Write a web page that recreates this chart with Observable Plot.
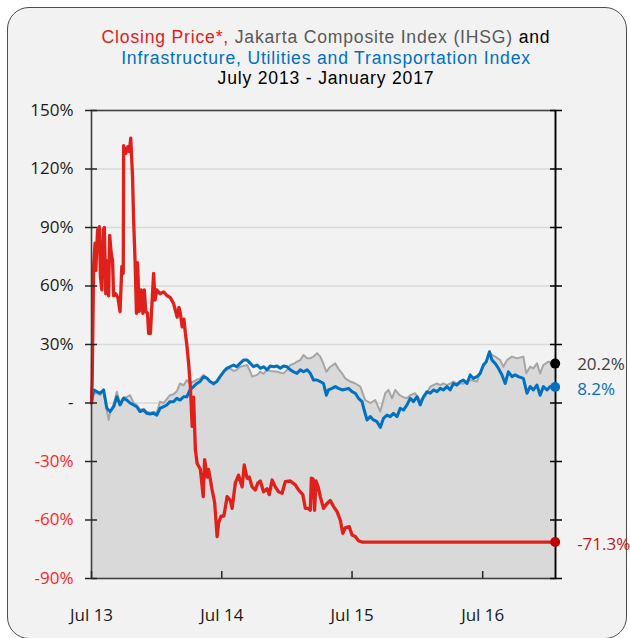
<!DOCTYPE html>
<html><head><meta charset="utf-8">
<script src="https://cdn.jsdelivr.net/npm/d3@7"></script>
<script src="https://cdn.jsdelivr.net/npm/@observablehq/plot@0.6"></script>
<style>
body{margin:0;background:#fff;width:630px;height:638px;overflow:hidden;font-family:"Open Sans",sans-serif;position:relative}
#card{position:absolute;left:7px;top:7px;width:620px;height:632px;border:1.5px solid #4d4d4d;border-radius:22px;background:#f2f2f2;box-sizing:border-box}
.tl{position:absolute;left:0;width:652px;text-align:center;font-family:"Liberation Sans",Arial,sans-serif;font-size:17.6px;letter-spacing:0.8px;line-height:20px;height:20px;color:#000;white-space:nowrap}
#chart{position:absolute;left:0;top:90px}
</style></head>
<body>
<div id="card"></div>
<div class="tl" style="top:27px"><span style="color:#e0201b">Closing Price*,</span> <span style="color:#595959">Jakarta Composite Index (IHSG)</span> and</div>
<div class="tl" style="top:47.5px;color:#0070c0">Infrastructure, Utilities and Transportation Index</div>
<div class="tl" style="top:68px">July 2013 - January 2017</div>
<div id="chart"></div>
<script>
// ---- Data (percent change since July 2013) ----
const redDates = ["2013-07-01","2013-07-03","2013-07-07","2013-07-11","2013-07-13","2013-07-18","2013-07-23","2013-07-26","2013-07-30","2013-08-03",
"2013-08-06","2013-08-10","2013-08-14","2013-08-18","2013-08-21","2013-08-25","2013-08-29","2013-09-01","2013-09-07","2013-09-13",
"2013-09-19","2013-09-24","2013-09-28","2013-09-29","2013-10-05","2013-10-11","2013-10-15","2013-10-19","2013-10-24","2013-10-27",
"2013-10-31","2013-11-04","2013-11-07","2013-11-12","2013-11-17","2013-11-22","2013-11-26","2013-11-30","2013-12-05","2013-12-08",
"2013-12-13","2013-12-17","2013-12-22","2013-12-26","2013-12-31","2014-01-09","2014-01-19","2014-01-29","2014-02-07","2014-02-16",
"2014-02-26","2014-03-03","2014-03-07","2014-03-12","2014-03-17","2014-03-21","2014-03-25","2014-03-30","2014-04-04","2014-04-09",
"2014-04-13","2014-04-18","2014-04-23","2014-05-02","2014-05-10","2014-05-14","2014-05-21","2014-05-25","2014-06-04","2014-06-11",
"2014-06-18","2014-06-22","2014-06-29","2014-07-07","2014-07-16","2014-07-25","2014-07-30","2014-08-08","2014-08-17","2014-08-27",
"2014-09-02","2014-09-10","2014-09-16","2014-09-24","2014-10-03","2014-10-10","2014-10-17","2014-10-26","2014-11-05","2014-11-11",
"2014-11-19","2014-11-28","2014-12-07","2014-12-17","2014-12-26","2015-01-09","2015-01-23","2015-02-01","2015-02-13","2015-02-20",
"2015-02-28","2015-03-06","2015-03-09","2015-03-14","2015-03-18","2015-03-22","2015-03-28","2015-04-03","2015-04-12","2015-04-22",
"2015-05-01","2015-05-10","2015-05-20","2015-05-29","2015-06-05","2015-06-12","2015-06-23","2015-07-01","2015-07-10","2015-07-19",
"2015-07-29","2017-01-20"];
const redValues = [0,12,70,82,68,88.7,90.4,64.8,58,88.7,
90,56,73,55,86,77,73,55,56,54,
46.8,70,66.5,132,128,131.5,129,135.8,116,94,
73,46,72,47,58,46,58,47,46,35.7,
35.7,49.4,66.5,52.8,58,56,57,55,54,51,
44,49,46,39,43,35.7,30,20.5,8.4,-12,
3,-24,-31,-34,-48,-29,-38,-34,-44.6,-51,
-68.5,-61.7,-58,-58,-48,-50,-54,-41,-37,-43,
-31.8,-38.6,-38,-43,-44.6,-41,-40,-45.5,-44,-47,
-39.5,-43,-45.5,-46.3,-40.3,-40,-42,-44.6,-47,-54,
-54,-55,-38.6,-39,-55,-40,-43,-48,-54,-51.5,
-50,-53,-55.7,-60,-66.8,-64,-63.4,-67.7,-68.5,-70.6,
-71.3,-71.3];

const blueDates = ["2013-07-01","2013-07-07","2013-07-16","2013-07-25","2013-08-04","2013-08-13","2013-08-22","2013-09-01","2013-09-10","2013-09-19",
"2013-09-29","2013-10-08","2013-10-17","2013-10-27","2013-11-05","2013-11-14","2013-11-24","2013-12-03","2013-12-12","2013-12-22",
"2013-12-31","2014-01-09","2014-01-19","2014-01-28","2014-02-06","2014-02-16","2014-02-25","2014-03-06","2014-03-16","2014-03-25",
"2014-04-03","2014-04-13","2014-04-22","2014-05-01","2014-05-11","2014-05-20","2014-05-29","2014-06-08","2014-06-17","2014-06-26",
"2014-07-06","2014-07-15","2014-07-24","2014-08-03","2014-08-12","2014-08-21","2014-08-31","2014-09-10","2014-09-19","2014-09-28",
"2014-10-08","2014-10-17","2014-10-26","2014-11-05","2014-11-14","2014-11-23","2014-12-03","2014-12-12","2014-12-21","2014-12-31",
"2015-01-09","2015-01-18","2015-01-28","2015-02-06","2015-02-15","2015-02-25","2015-03-06","2015-03-15","2015-03-25","2015-04-03",
"2015-04-12","2015-04-20","2015-04-26","2015-05-06","2015-05-15","2015-05-24","2015-06-03","2015-06-12","2015-06-21","2015-07-01",
"2015-07-10","2015-07-19","2015-07-29","2015-08-04","2015-08-12","2015-08-21","2015-08-30","2015-09-09","2015-09-18","2015-09-27",
"2015-10-07","2015-10-16","2015-10-25","2015-11-04","2015-11-13","2015-11-22","2015-12-02","2015-12-11","2015-12-20","2015-12-30",
"2016-01-08","2016-01-17","2016-01-27","2016-02-05","2016-02-14","2016-02-24","2016-03-04","2016-03-13","2016-03-23","2016-04-01",
"2016-04-10","2016-04-20","2016-04-29","2016-05-08","2016-05-18","2016-05-27","2016-06-05","2016-06-15","2016-06-24","2016-07-03",
"2016-07-11","2016-07-20","2016-07-27","2016-08-05","2016-08-14","2016-08-24","2016-09-02","2016-09-11","2016-09-21","2016-09-30",
"2016-10-09","2016-10-23","2016-11-02","2016-11-11","2016-11-20","2016-11-30","2016-12-09","2016-12-18","2016-12-28","2017-01-06",
"2017-01-20"];
const blueValues = [0,6.7,5.8,5,6.7,-2.7,-4.4,-1.9,3.2,-1,
2.4,1.5,0,-1,-1.9,-4.4,-3.6,-5.3,-5.6,-5.3,
-6.2,-2.7,-1.9,-1,0.7,0.7,2.4,1.5,3.2,3.2,
6.7,8.4,10,11,13.5,12.8,11,10,11,13.5,
16,17.8,18.6,19.5,18.6,20.3,22,22,20.3,18.6,
19.5,17.8,18.6,17,19,18.6,19,17.8,19,18.6,
17,16,15.2,17,16,17,15.2,11.8,11.8,11,
10,4,6.7,7.5,8.4,7.5,6.7,7,7.5,5.8,
5,2.4,0.7,-3.6,-8.7,-7,-8.7,-9.6,-12.5,-7.9,
-6.2,-7,-5.3,-7,-2.7,-3.6,-1,2.4,0.7,3.2,
-1,3.2,5.8,5,6.7,5.8,7.5,6.7,8.4,6.7,
10,9.2,11,11.8,10,14.4,12.6,13.5,15.2,19.5,
21.2,26.3,22,20.3,17.8,14.4,10,16,13.5,14.4,
13.5,12.6,5,8.4,6.7,9.2,4,8.4,6.7,8.4,
8.2];

const grayDates = ["2013-07-01","2013-07-07","2013-07-16","2013-07-25","2013-08-04","2013-08-13","2013-08-18","2013-08-23","2013-09-01","2013-09-10",
"2013-09-19","2013-09-29","2013-10-08","2013-10-17","2013-10-27","2013-11-05","2013-11-14","2013-11-24","2013-12-03","2013-12-12",
"2013-12-22","2013-12-31","2014-01-09","2014-01-19","2014-01-28","2014-02-06","2014-02-16","2014-02-25","2014-03-06","2014-03-16",
"2014-03-25","2014-04-03","2014-04-13","2014-04-22","2014-05-01","2014-05-11","2014-05-20","2014-05-29","2014-06-08","2014-06-17",
"2014-06-26","2014-07-06","2014-07-15","2014-07-24","2014-08-03","2014-08-12","2014-08-21","2014-08-31","2014-09-10","2014-09-19",
"2014-09-24","2014-10-08","2014-10-17","2014-10-26","2014-11-05","2014-11-14","2014-12-03","2014-12-21","2014-12-31","2015-01-09",
"2015-01-18","2015-01-28","2015-02-06","2015-02-15","2015-02-25","2015-03-06","2015-03-15","2015-03-25","2015-04-03","2015-04-12",
"2015-04-20","2015-05-01","2015-05-15","2015-05-24","2015-06-03","2015-06-12","2015-06-26","2015-07-10","2015-07-24","2015-08-07",
"2015-08-21","2015-09-04","2015-09-18","2015-10-02","2015-10-11","2015-10-21","2015-10-30","2015-11-11","2015-11-22","2015-12-02",
"2015-12-11","2015-12-25","2016-01-08","2016-01-22","2016-02-05","2016-02-14","2016-02-24","2016-03-04","2016-03-13","2016-03-23",
"2016-04-01","2016-04-10","2016-04-20","2016-05-08","2016-05-27","2016-06-15","2016-06-29","2016-07-11","2016-07-20","2016-08-05",
"2016-08-19","2016-08-28","2016-09-07","2016-09-21","2016-10-05","2016-10-23","2016-10-31","2016-11-11","2016-11-20","2016-11-30",
"2016-12-09","2016-12-18","2017-01-01","2017-01-11","2017-01-20"];
const grayValues = [0,5,5,4,6,-4,-8.7,-4,-1,5.8,
0,3,3,4,0,-1,-3.5,-3,-4.5,-5,
-4.5,-5,0.7,0,2,4,4.5,6,10,9,
11.8,10,11,12,12.5,14.4,13,11,9.2,11,
13,16,17,17.8,16.4,17,18.6,19,19.5,16,
13.5,14.4,16,15,17,16.4,16,15.2,17,19.5,
20,21.2,22,24.6,23,22.9,23.8,25.5,23.8,20,
16,18.6,20.3,17.5,15.2,12.6,11,10,8.4,1.5,
0,1.5,-4.4,5,6.7,2.4,6.7,4,3,2.4,
4,5,1.5,3.2,8.4,9.2,10,9.2,10,9.2,
10,11,10,10,11.8,11,17.8,21,25.5,23.8,
22,18.6,22,23.8,22.9,23.8,15.2,18.6,17.8,20.3,
15.2,19.5,21.2,20.3,20.2];

const yTicks = [150,120,90,60,30,0,-30,-60,-90];
const yTickLabels = ["150%","120%","90%","60%","30%","-","-30%","-60%","-90%"];
const xTickDates = ["2013-07-01","2014-07-01","2015-07-01","2016-07-01"];
const xTickLabels = ["Jul 13","Jul 14","Jul 15","Jul 16"];
const xDomain = ["2013-07-01","2017-01-21"];

// ---- Build tables ----
const toRows = (ds, vs) => ds.map((d, i) => ({date: new Date(d), value: vs[i]}));
const red = toRows(redDates, redValues);
const blue = toRows(blueDates, blueValues);
const gray = toRows(grayDates, grayValues);
const last = a => a[a.length - 1];
const endGray = [last(gray)], endBlue = [last(blue)], endRed = [last(red)];
const xTicks = xTickDates.map(d => new Date(d));
const pct = d => `${d.value.toFixed(1)}%`;
const font = "Open Sans";

const chart = Plot.plot({
  width: 630, height: 548,
  marginTop: 20, marginBottom: 60, marginLeft: 91, marginRight: 75,
  style: {background: "transparent", fontFamily: font, fontSize: "17px", overflow: "visible"},
  x: {type: "utc", domain: xDomain.map(d => new Date(d))},
  y: {domain: [-90, 150]},
  marks: [
    Plot.ruleY(yTicks.filter(d => d > -90 && d < 150), {stroke: "#d9d9d9", strokeWidth: 1.3}),
    Plot.areaY(gray, {x: "date", y1: -90, y2: "value", fill: "#d9d9d9"}),
    Plot.lineY(gray, {x: "date", y: "value", stroke: "#a6a6a6", strokeWidth: 2}),
    Plot.lineY(blue, {x: "date", y: "value", stroke: "#0070c0", strokeWidth: 3}),
    Plot.lineY(red, {x: "date", y: "value", stroke: "#e0201b", strokeWidth: 3.3}),
    Plot.frame({stroke: "#404040", strokeWidth: 1.6}),
    Plot.ruleX([new Date(xDomain[1])], {stroke: "#000", strokeWidth: 1.6, y1: -90, y2: 150}),
    Plot.axisY(yTicks, {anchor: "left", tickSize: 12, dx: 6, tickFormat: () => "", label: null, stroke: "#262626", strokeWidth: 1.5}),
    Plot.axisY(yTicks, {anchor: "right", tickSize: 12, dx: -6, tickFormat: () => "", label: null, stroke: "#000", strokeWidth: 1.5}),
    Plot.text(yTicks, {filter: d => d >= 0, y: d => d, text: d => yTickLabels[yTicks.indexOf(d)], frameAnchor: "left", textAnchor: "end", lineAnchor: "middle", dx: -18, fill: "#1a1a1a"}),
    Plot.text(yTicks, {filter: d => d < 0, y: d => d, text: d => yTickLabels[yTicks.indexOf(d)], frameAnchor: "left", textAnchor: "end", lineAnchor: "middle", dx: -18, fill: "#ff1f1f"}),
    Plot.axisX(xTicks, {tickSize: 7, dy: -7, tickFormat: () => "", label: null, stroke: "#262626", strokeWidth: 1.5}),
    Plot.text(xTicks, {x: d => d, text: (d, i) => xTickLabels[i], frameAnchor: "bottom", lineAnchor: "middle", dy: 37, fill: "#1a1a1a"}),
    Plot.dot(endGray, {x: "date", y: "value", r: 5, fill: "#000"}),
    Plot.dot(endBlue, {x: "date", y: "value", r: 5, fill: "#0070c0"}),
    Plot.dot(endRed, {x: "date", y: "value", r: 5, fill: "#c00000"}),
    Plot.text(endGray, {x: "date", y: "value", text: pct, dx: 22, dy: 1, textAnchor: "start", fill: "#404040"}),
    Plot.text(endBlue, {x: "date", y: "value", text: pct, dx: 22, dy: 3, textAnchor: "start", fill: "#0070c0"}),
    Plot.text(endRed, {x: "date", y: "value", text: pct, dx: 22, dy: 3, textAnchor: "start", fill: "#c8161d"})
  ]
});
document.getElementById("chart").appendChild(chart);
</script>
</body></html>
